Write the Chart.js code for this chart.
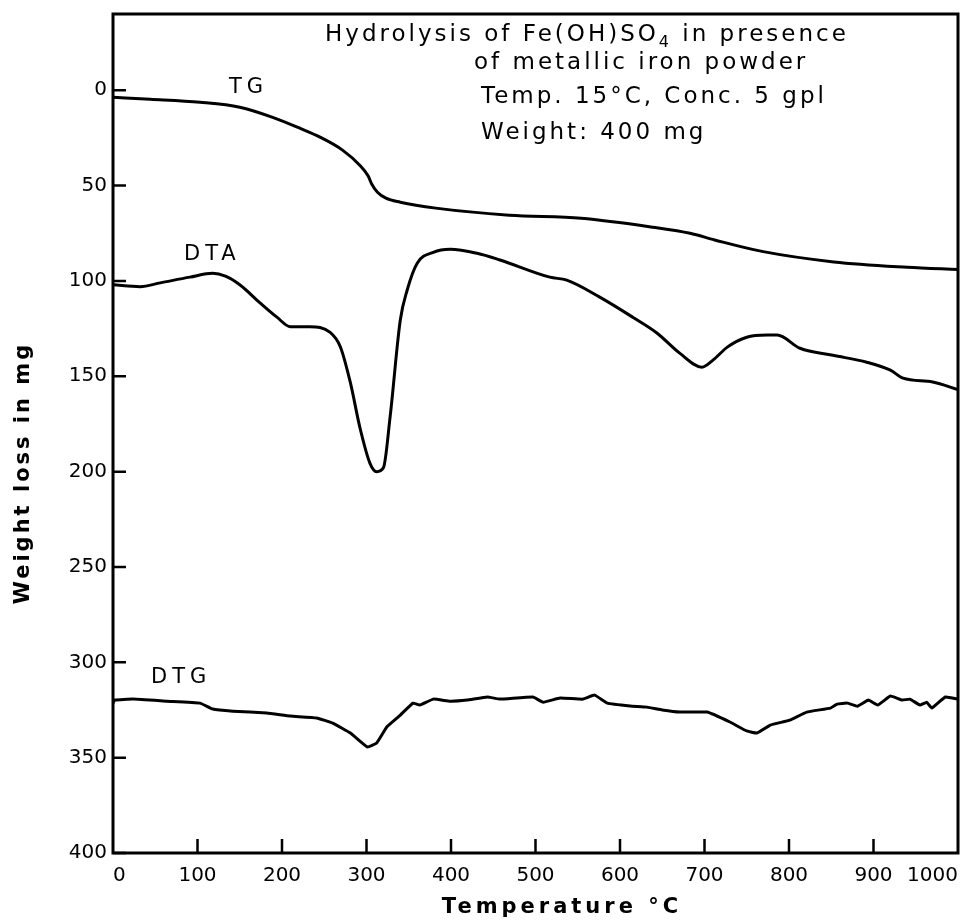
<!DOCTYPE html>
<html>
<head>
<meta charset="utf-8">
<script src="https://cdn.jsdelivr.net/npm/chart.js@4.4.1/dist/chart.umd.min.js"></script>
<style>
  html, body { margin: 0; padding: 0; background: #fff; }
  #wrap { width: 969px; height: 922px; }
</style>
</head>
<body>
<div id="wrap"><canvas id="chart" width="969" height="922"></canvas></div>
<script>
// temperature ticks and weight ticks
const xTicks = [0, 100, 200, 300, 400, 500, 600, 700, 800, 900, 1000];
const yTicks = [0, 50, 100, 150, 200, 250, 300, 350, 400];

// TG curve
const tgTemp = [0, 44, 103, 150, 189, 221, 245, 272, 292, 302, 306, 313, 323, 340, 382, 469, 554, 639, 683, 712, 768, 853, 940, 1000];
const tgMass = [3.7, 4.7, 6.3, 8.9, 14.2, 19.9, 24.6, 31.5, 39.3, 45, 49, 53.5, 56.6, 58.7, 61.8, 65.5, 67.1, 71.8, 75, 78.5, 84.5, 90, 92.8, 94];

// DTA curve
const dtaTemp = [0, 32, 56, 91, 118, 133, 150, 174, 194, 210, 233, 257, 269, 281, 292, 304, 312, 320, 328, 340, 348, 360, 379, 399, 431, 458, 517, 537, 576, 615, 644, 671, 697, 710, 727, 750, 774, 786, 813, 852, 892, 920, 935, 970, 1000];
const dtaMass = [102, 103, 101, 98, 96, 97.5, 102, 111.5, 119, 124, 124, 127, 134.5, 153.5, 176.5, 195.5, 200, 198, 171, 120.5, 105, 90.7, 85, 83.4, 85.5, 89, 98, 99.6, 108.5, 119, 127.4, 138, 145.2, 141.5, 134.7, 129.5, 128.4, 128.4, 135.3, 139, 142.6, 146.8, 151, 153, 157];

// DTG curve
const dtgTemp = [0, 2, 24, 64, 103, 118, 142, 182, 210, 241, 260, 281, 301, 312, 324, 340, 355, 363, 379, 399, 419, 443, 458, 497, 509, 529, 556, 570, 585, 612, 632, 650, 671, 703, 730, 750, 762, 778, 801, 821, 849, 857, 869, 881, 894, 905, 920, 934, 943, 955, 963, 969, 985, 1000];
const dtgMass = [321.4, 319.8, 319.3, 320.4, 321.4, 324.5, 325.6, 326.6, 328.2, 329.2, 331.9, 337.1, 344.4, 342.3, 333.9, 327.7, 321.4, 322.4, 319.3, 320.4, 319.8, 318.2, 319.3, 318.2, 320.9, 318.7, 319.3, 317.2, 321.4, 322.9, 323.5, 325, 326.1, 326.1, 331.3, 336, 337.1, 332.9, 330.3, 326.1, 324, 321.9, 321.4, 323, 319.8, 322.4, 317.7, 319.8, 319.3, 322.4, 320.9, 324, 318.2, 319.3];

const FONT = "'DejaVu Sans', sans-serif";

function toPoints(xs, ys) {
    return xs.map((x, i) => ({ x: x, y: ys[i] }));
}

function line(data, smooth) {
    return {
        data: data,
        borderColor: '#000',
        borderWidth: 3,
        pointRadius: 0,
        fill: false,
        cubicInterpolationMode: smooth ? 'monotone' : 'default',
        tension: smooth ? 0.4 : 0.1
    };
}

function spacedText(ctx, text, x, y, spacing) {
    ctx.letterSpacing = spacing + 'px';
    ctx.fillText(text, x, y);
    ctx.letterSpacing = '0px';
}

// frame, inward ticks and all the lettering
const decor = {
    id: 'decor',
    afterDraw(chart) {
        const ctx = chart.ctx;
        const a = chart.chartArea;
        const xs = chart.scales.x, ys = chart.scales.y;
        ctx.save();
        ctx.strokeStyle = '#000';
        ctx.lineWidth = 3;
        ctx.strokeRect(a.left, a.top, a.right - a.left, a.bottom - a.top);

        ctx.lineWidth = 2.5;
        ctx.beginPath();
        yTicks.forEach(v => {
            const p = ys.getPixelForValue(v);
            ctx.moveTo(a.left, p);
            ctx.lineTo(a.left + 13, p);
        });
        xTicks.slice(1, -1).forEach(v => {
            const p = xs.getPixelForValue(v);
            ctx.moveTo(p, a.bottom);
            ctx.lineTo(p, a.bottom - 14);
        });
        ctx.stroke();

        ctx.fillStyle = '#000';
        ctx.textBaseline = 'middle';
        ctx.textAlign = 'left';

        // curve labels
        ctx.font = '21px ' + FONT;
        spacedText(ctx, 'TG', 229, 88, 5);
        spacedText(ctx, 'DTA', 184, 255, 5);
        spacedText(ctx, 'DTG', 151, 678, 5);

        // annotation
        ctx.font = '23px ' + FONT;
        ctx.letterSpacing = '3px';
        let x = 325;
        const l1a = 'Hydrolysis of Fe(OH)SO';
        ctx.fillText(l1a, x, 35);
        x += ctx.measureText(l1a).width;
        ctx.font = '16px ' + FONT;
        ctx.fillText('4', x, 43);
        x += ctx.measureText('4').width;
        ctx.font = '23px ' + FONT;
        ctx.fillText(' in presence', x, 35);
        ctx.fillText('of metallic iron powder', 474, 63);
        ctx.fillText('Temp. 15\u00b0C, Conc. 5 gpl', 481, 97);
        ctx.fillText('Weight: 400 mg', 481, 133);
        ctx.letterSpacing = '0px';

        // axis titles
        ctx.font = 'bold 21px ' + FONT;
        ctx.textAlign = 'center';
        spacedText(ctx, 'Temperature \u00b0C', 562, 908, 4);
        ctx.translate(24, 473);
        ctx.rotate(-Math.PI / 2);
        spacedText(ctx, 'Weight loss in mg', 0, 0, 3);
        ctx.restore();
    }
};

new Chart(document.getElementById('chart'), {
    type: 'line',
    data: {
        datasets: [
            line(toPoints(tgTemp, tgMass), true),
            line(toPoints(dtaTemp, dtaMass), true),
            line(toPoints(dtgTemp, dtgMass), false)
        ]
    },
    options: {
        responsive: false,
        animation: false,
        layout: { padding: { top: 14, right: 11, left: 0, bottom: 0 } },
        plugins: { legend: { display: false }, tooltip: { enabled: false } },
        scales: {
            x: {
                type: 'linear',
                min: 0,
                max: 1000,
                grid: { display: false, drawTicks: false },
                border: { display: false },
                ticks: {
                    color: '#000',
                    font: { family: FONT, size: 20 },
                    padding: 11,
                    align: 'inner',
                    maxRotation: 0,
                    callback: v => String(v)
                },
                afterBuildTicks: s => { s.ticks = xTicks.map(v => ({ value: v })); },
                afterFit: s => {
                    s.height = 69;
                    s.paddingLeft = 0; s.paddingRight = 0;
                }
            },
            y: {
                type: 'linear',
                min: -40,
                max: 400,
                reverse: true,
                grid: { display: false, drawTicks: false },
                border: { display: false },
                ticks: {
                    color: '#000',
                    font: { family: FONT, size: 20 },
                    padding: 6,
                    callback: v => String(v)
                },
                afterBuildTicks: s => { s.ticks = yTicks.map(v => ({ value: v })); },
                afterFit: s => {
                    s.width = 113;
                    s.paddingTop = 0; s.paddingBottom = 0;
                }
            }
        }
    },
    plugins: [decor]
});
</script>
</body>
</html>
